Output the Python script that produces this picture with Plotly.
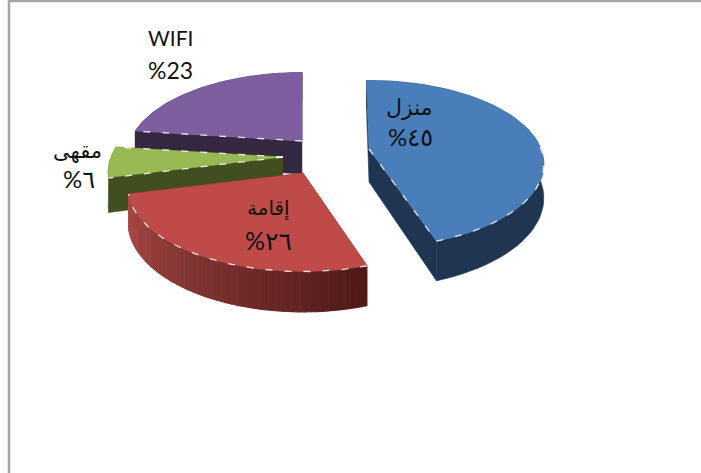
import numpy as np
import plotly.graph_objects as go

# data
categories = ["منزل", "إقامة", "مقهى", "WIFI"]
shares = [45, 26, 6, 23]
share_labels = ["%٤٥", "%٢٦", "%٦", "%23"]

top_colors = ["#4a7ebb", "#be4b48", "#98b954", "#7d5fa0"]
wall_colors = ["#1f3552", "#7a2d2b", "#404e20", "#332840"]

# screen position of each slice's tip (the pie is exploded)
tips = [(369, 149), (303, 173), (283, 157), (302, 141)]
turn = [-1, 0, 0, 0]
label_pos = [
    ((409, 106), (410, 136)),
    ((268, 208), (268, 240)),
    ((77, 150), (79, 178)),
    ((170, 37), (170, 70)),
]
label_size = [(22, 24), (20, 25), (21, 24), (21, 23)]

RADIUS = 172
SQUASH = 0.47
PERSP = 0.18
DEPTH = 33


def project(tip, deg):
    # clockwise from 12 o'clock, with the near side drawn larger
    a = np.radians(deg)
    u, v = np.sin(a), -np.cos(a)
    s = 1 / (1 - PERSP * v)
    return tip[0] + RADIUS * u * s, tip[1] + RADIUS * SQUASH * v * s, DEPTH * s


def poly(x, y, color, width=0.5):
    return go.Scatter(x=x, y=y, mode="lines", fill="toself", fillcolor=color,
                      line=dict(color=color, width=width), hoverinfo="skip", showlegend=False)


def highlight(x, y):
    return go.Scatter(x=x, y=y, mode="lines", hoverinfo="skip", showlegend=False,
                      line=dict(color="rgba(255,255,255,0.85)", width=1.3, dash="7px,12px"))


def mix(c1, c2, t):
    a = [int(c1[i:i + 2], 16) for i in (1, 3, 5)]
    b = [int(c2[i:i + 2], 16) for i in (1, 3, 5)]
    return "rgb(%d,%d,%d)" % tuple(a[i] + (b[i] - a[i]) * t for i in range(3))


edges = np.cumsum([0] + shares) * 3.6
fig = go.Figure()

# back to front: purple, green, red, blue
for i in [3, 2, 1, 0]:
    tip = tips[i]
    a0, a1 = edges[i] + turn[i], edges[i + 1] + turn[i]
    ang = np.linspace(a0, a1, 60)
    px, py, pd_ = zip(*[project(tip, a) for a in ang])
    tip_d = DEPTH

    # straight walls under both cut edges
    for k in (-1, 0):
        fig.add_trace(poly([tip[0], px[k], px[k], tip[0]],
                           [tip[1], py[k], py[k] + pd_[k], tip[1] + tip_d], wall_colors[i]))

    # outer wall: strips on red so it can shade across, one piece elsewhere
    if i == 1:
        for j in range(len(ang) - 1):
            col = mix("#4f1a19", "#ab4a47", j / (len(ang) - 2))
            fig.add_trace(poly([px[j], px[j + 1], px[j + 1], px[j]],
                               [py[j], py[j + 1], py[j + 1] + pd_[j + 1], py[j] + pd_[j]], col, 1.2))
    else:
        low = [a + b for a, b in zip(py, pd_)]
        fig.add_trace(poly([*px, *px[::-1]], [*py, *low[::-1]], wall_colors[i]))

    # top face
    fig.add_trace(poly([tip[0], *px, tip[0]], [tip[1], *py, tip[1]], top_colors[i]))

    # white bevel along the lit edges
    if i == 0:
        fig.add_trace(highlight([tip[0], px[-1], *px[::-1][:30]], [tip[1], py[-1], *py[::-1][:30]]))
    elif i == 1:
        fig.add_trace(highlight(px, py))
    elif i == 2:
        fig.add_trace(highlight([tip[0], px[0]], [tip[1], py[0]]))
        fig.add_trace(highlight([tip[0], px[-1]], [tip[1], py[-1]]))
    else:
        fig.add_trace(highlight([tip[0], px[0]], [tip[1], py[0]]))

# labels
for name, share, pos, size in zip(categories, share_labels, label_pos, label_size):
    for line, (x, y), sz in zip((name, share), pos, size):
        fig.add_annotation(x=x, y=y, text=line, showarrow=False, xanchor="center", yanchor="middle",
                           font=dict(family="Lato, DejaVu Sans", size=sz, color="#111111"))

# chart frame
fig.add_shape(type="line", x0=9, x1=9, y0=0, y1=473, line=dict(color="#a6a6a6", width=2.5))
fig.add_shape(type="line", x0=9, x1=701, y0=1, y1=1, line=dict(color="#a6a6a6", width=2.5))

fig.update_xaxes(range=[0, 701], visible=False)
fig.update_yaxes(range=[473, 0], visible=False)
fig.update_layout(width=701, height=473, margin=dict(l=0, r=0, t=0, b=0),
                  paper_bgcolor="white", plot_bgcolor="white", showlegend=False)
fig.write_html("out.html", config=dict(displayModeBar=False),
               post_script="document.body.style.margin='0';document.body.style.overflow='hidden';")
